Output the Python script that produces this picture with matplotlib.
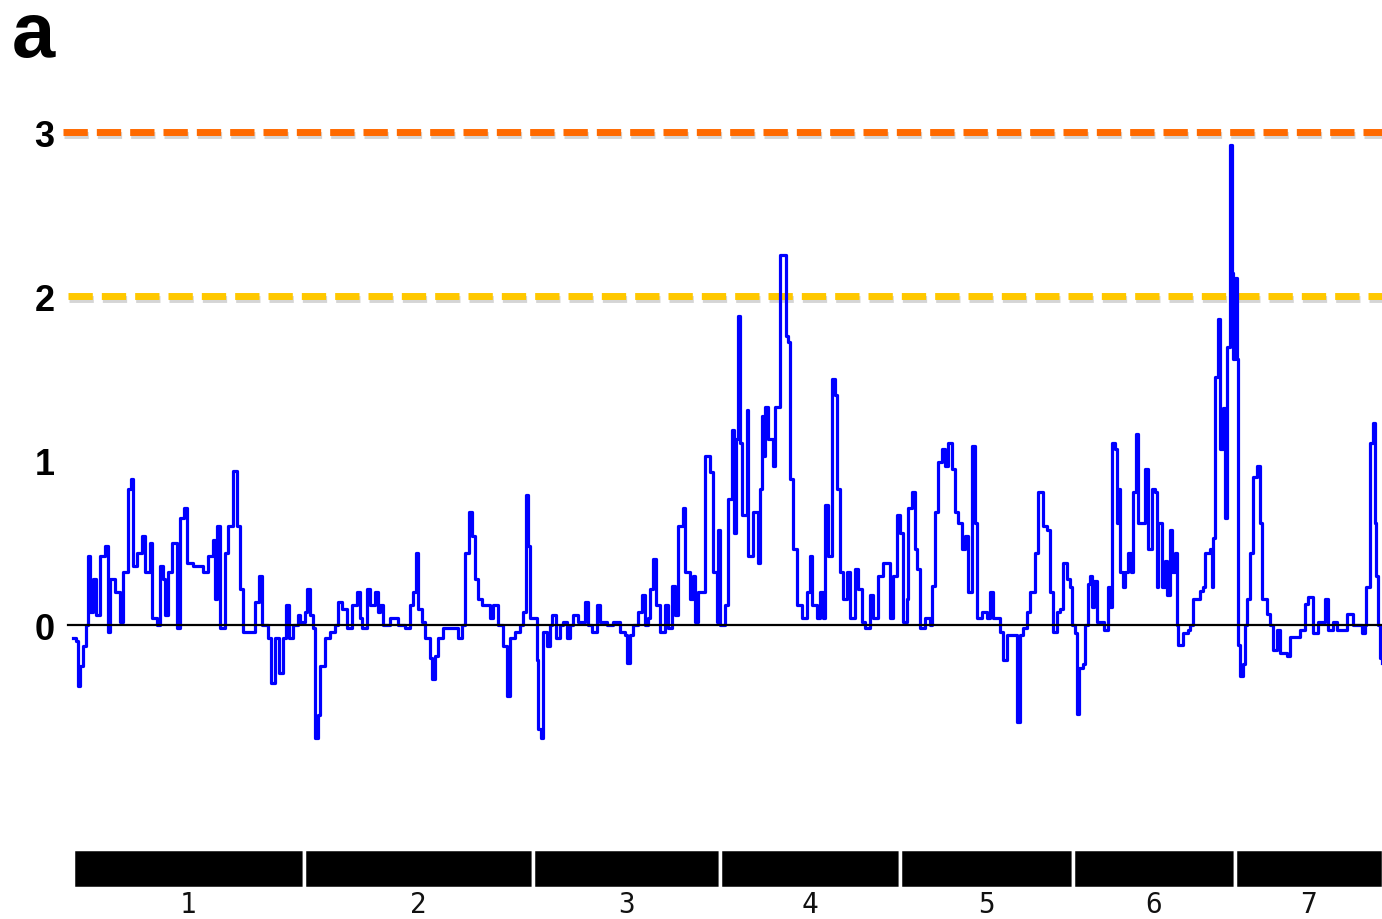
import matplotlib
matplotlib.use('Agg')
from matplotlib import pyplot as plt
import matplotlib.patheffects as pe
import numpy as np

# chromosome map (length in map units, in order)
chrom_names = ['1', '2', '3', '4', '5', '6', '7']
chrom_lengths = [230.5, 229.5, 187, 180, 173, 162, 148]

# thresholds
thresholds = [2, 3]
threshold_colors = ['#FFC800', '#FF6A00']

# genome-wide LOD trace (cumulative map position, LOD)
pos = [0, 3, 5, 7, 10, 13, 15, 17, 20, 23, 27, 32, 35, 37, 42, 47, 50, 55, 58, 60,
       64, 69, 72, 77, 79, 84, 87, 90, 92, 95, 99, 104, 107, 111, 114, 120, 130, 135, 140, 142,
       144, 147, 152, 155, 160, 164, 167, 170, 179, 182, 186, 189, 195, 198, 202, 206, 210, 213, 216, 220,
       225, 227,
       232, 234, 237, 240, 242, 245, 247, 250, 252, 257, 262, 265, 269, 274, 279, 284, 287, 289, 294, 297,
       302, 305, 307, 310, 317, 325, 332, 337, 340, 343, 345, 349, 352, 357, 359, 362, 365, 370, 380, 385,
       389, 392, 396, 399, 402, 405, 409, 417, 420, 425, 430, 434, 437, 442, 447, 450, 453, 455, 457,
       464, 465, 468, 470, 474, 477, 479, 483, 487, 490, 494, 497, 500, 505, 512, 515, 519, 524, 527, 534,
       540, 547, 552, 554, 557, 560, 565, 569, 572, 575, 577, 580, 583, 587, 592, 595, 599, 602, 605, 610,
       612, 617, 620, 622, 625, 629, 632, 637, 640, 644, 645, 647,
       652, 655, 659, 661, 663, 665, 667, 669, 672, 674, 675, 680, 685, 687, 689, 690, 692, 695, 700, 702,
       705, 707, 712, 713, 715, 717, 720, 724, 729, 734, 737, 739, 744, 747, 750, 752, 755, 759, 762, 764,
       767, 770, 774, 777, 782, 785, 789, 792, 797, 800, 805, 810, 817, 820, 824, 827,
       830, 834, 835, 839, 842, 844, 847, 852, 857, 859, 862, 865, 869, 872, 875, 879, 882, 885, 889, 892,
       895, 899, 902, 904, 909, 914, 917, 920, 927, 930, 934, 940, 944, 947, 950, 954, 957, 962, 965, 970,
       974, 977, 980, 984, 987, 990, 994, 997, 999,
       1002, 1004, 1006, 1010, 1012, 1015, 1017, 1019, 1021, 1024, 1031, 1035, 1037, 1039, 1042, 1044, 1045, 1047, 1050, 1052,
       1055, 1058, 1060, 1063, 1065, 1072, 1075, 1079, 1082, 1084, 1085, 1089, 1092, 1094, 1097, 1099, 1102, 1104, 1105, 1110,
       1115, 1117, 1120, 1127, 1130, 1132, 1137, 1139, 1140, 1142, 1145, 1147, 1150, 1152, 1154, 1157, 1159, 1160, 1162,
       1164, 1165, 1167, 1170, 1172, 1174, 1177, 1180, 1184, 1187, 1189, 1194, 1197, 1200, 1204, 1207, 1214, 1217, 1227, 1232,
       1235, 1240, 1245, 1252, 1255, 1260, 1264, 1274, 1280, 1289, 1292, 1293, 1297, 1300, 1302, 1303, 1305, 1307, 1309]
lod = [-0.08, -0.10, -0.37, -0.25, -0.13, 0.00, 0.42, 0.08, 0.28, 0.06, 0.42, 0.48, -0.04, 0.28, 0.20, 0.02, 0.32, 0.83, 0.89, 0.36,
       0.44, 0.54, 0.32, 0.50, 0.04, 0.00, 0.36, 0.28, 0.06, 0.32, 0.50, -0.02, 0.65, 0.71, 0.38, 0.36, 0.32, 0.42, 0.52, 0.16,
       0.60, -0.02, 0.44, 0.60, 0.94, 0.60, 0.22, -0.04, -0.04, 0.14, 0.30, 0.00, -0.08, -0.35, -0.08, -0.29, -0.08, 0.12, -0.08, 0.00,
       0.06, 0.02,
       0.08, 0.22, 0.06, -0.02, -0.69, -0.55, -0.25, -0.25, -0.08, -0.04, 0.00, 0.14, 0.10, -0.02, 0.12, 0.20, 0.04, -0.02, 0.22, 0.12,
       0.20, 0.08, 0.12, 0.00, 0.04, 0.00, -0.02, 0.12, 0.20, 0.44, 0.10, 0.02, -0.08, -0.20, -0.33, -0.19, -0.08, -0.02, -0.02, -0.08,
       0.00, 0.44, 0.69, 0.54, 0.28, 0.16, 0.12, 0.04, 0.12, 0.00, -0.13, -0.43, -0.08, -0.04, 0.00, 0.08, 0.79, 0.48, 0.04,
       -0.21, -0.63, -0.69, -0.04, -0.13, 0.00, 0.06, -0.08, 0.00, 0.02, -0.08, 0.00, 0.06, 0.02, 0.14, 0.00, -0.04, 0.12, 0.02, 0.00,
       0.02, -0.04, -0.06, -0.23, -0.06, 0.00, 0.08, 0.18, 0.00, 0.04, 0.22, 0.40, 0.12, -0.04, 0.12, -0.02, 0.24, 0.06, 0.60, 0.71,
       0.32, 0.16, 0.30, 0.02, 0.20, 0.20, 1.03, 0.93, 0.32, 0.02, 0.58, 0.00,
       0.12, 0.77, 1.19, 0.56, 1.13, 1.88, 1.11, 0.67, 0.67, 1.31, 0.42, 0.69, 0.38, 0.83, 1.27, 1.03, 1.33, 1.13, 0.97, 1.33,
       1.33, 2.25, 2.25, 1.76, 1.72, 0.89, 0.46, 0.12, 0.04, 0.20, 0.42, 0.12, 0.04, 0.20, 0.04, 0.73, 0.42, 1.50, 1.40, 0.83,
       0.32, 0.16, 0.32, 0.04, 0.34, 0.22, 0.02, -0.02, 0.18, 0.04, 0.30, 0.38, 0.04, 0.30, 0.67, 0.56,
       0.02, 0.16, 0.71, 0.81, 0.46, 0.34, -0.02, 0.04, 0.00, 0.24, 0.69, 0.99, 1.07, 0.97, 1.11, 0.95, 0.69, 0.62, 0.46, 0.54,
       0.20, 1.09, 0.62, 0.04, 0.08, 0.04, 0.20, 0.04, -0.04, -0.21, -0.06, -0.06, -0.59, -0.06, -0.02, 0.08, 0.20, 0.44, 0.81, 0.60,
       0.58, 0.20, -0.04, 0.08, 0.10, 0.38, 0.28, 0.23, 0.00,
       -0.05, -0.54, -0.26, -0.24, 0.00, 0.25, 0.30, 0.11, 0.27, 0.02, -0.03, 0.23, 0.11, 1.11, 1.07, 0.62, 0.83, 0.32, 0.23, 0.32,
       0.44, 0.32, 0.81, 1.16, 0.62, 0.95, 0.46, 0.83, 0.81, 0.23, 0.62, 0.23, 0.39, 0.18, 0.58, 0.32, 0.44, 0.00, -0.12, -0.05,
       -0.03, 0.00, 0.16, 0.21, 0.23, 0.44, 0.46, 0.23, 0.53, 1.51, 1.86, 1.07, 1.32, 0.65, 1.69, 2.92, 2.14, 1.62, 2.11,
       1.62, -0.12, -0.31, -0.24, 0.00, 0.16, 0.44, 0.90, 0.97, 0.62, 0.16, 0.07, 0.00, -0.15, -0.03, -0.17, -0.19, -0.07, -0.03, 0.13,
       0.17, -0.05, 0.02, 0.16, -0.03, 0.02, -0.03, 0.07, 0.00, -0.05, 0.00, 0.23, 1.11, 1.23, 0.62, 0.30, 0.00, -0.20, -0.23]


def main():
    fig = plt.figure(figsize=(13.82, 9.2), dpi=100)
    ax = fig.add_axes([60 / 1382, 0, 1322 / 1382, 1])
    ax.set_xlim(-13, 1309)
    ax.set_ylim(-1.789, 3.81)
    for s in ax.spines.values():
        s.set_visible(False)
    ax.set_xticks([])
    ax.set_yticks([0, 1, 2, 3])
    ax.set_yticklabels(['0', '1', '2', '3'], fontsize=26, fontweight='bold',
                       family='Liberation Sans')
    ax.tick_params(axis='y', length=0, pad=4)

    # threshold lines with a soft shadow
    shadow = [pe.SimpleLineShadow(offset=(1, -2.2), shadow_color='#777777', alpha=0.3),
              pe.Normal()]
    starts = [-5, -10]
    for t, c, x0 in zip(thresholds, threshold_colors, starts):
        ax.plot([x0, 1309], [t, t], color=c, lw=5, linestyle=(0, (3.5, 1.3)),
                solid_capstyle='butt', dash_capstyle='butt', path_effects=shadow, zorder=2)

    ax.plot(pos, lod, color='#0000FF', lw=2.3, drawstyle='steps-post', zorder=3)
    ax.plot([-5, 1309], [0, 0], color='black', lw=1.6, zorder=4)

    # chromosome bars
    edges = np.concatenate([[0], np.cumsum(chrom_lengths)])
    ax.bar(edges[:-1], 0.24, width=chrom_lengths, bottom=-1.603, align='edge',
           color='black', edgecolor='white', linewidth=2.5, zorder=2)
    for name, a, b in zip(chrom_names, edges[:-1], edges[1:]):
        ax.text((a + b) / 2, -1.70, name, ha='center', va='center', fontsize=20,
                family='DejaVu Sans Mono', color='#111111', clip_on=False)

    fig.text(12 / 1382, 1 - 57 / 920, 'a', fontsize=56, fontweight='bold',
             family='Liberation Sans', va='baseline', ha='left')

    fig.savefig('out.png', dpi=100)


if __name__ == '__main__':
    main()
